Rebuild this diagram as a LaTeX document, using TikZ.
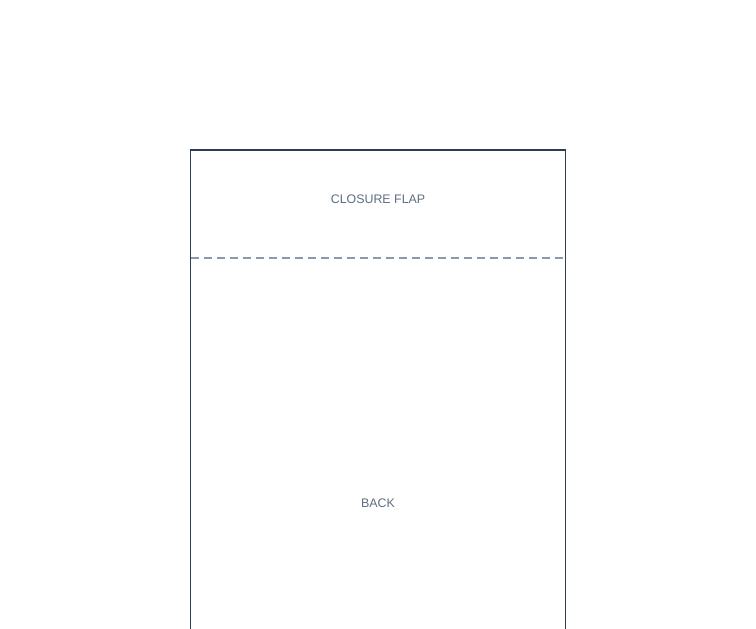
\documentclass[tikz,border=0pt]{standalone}
\usepackage{fontspec}
\setmainfont{Liberation Sans}
\usepackage{xcolor}
\usetikzlibrary{positioning}
\definecolor{edgecol}{HTML}{2C3E50}
\definecolor{foldcol}{HTML}{8A9AAB}
\definecolor{labelcol}{HTML}{5D6D7E}
\tikzset{
	panel/.style={draw=edgecol,line width=1.2pt},
	fold/.style={draw=foldcol,line width=1.2pt,dash pattern=on 8pt off 5pt},
	panellabel/.style={text=labelcol,font=\fontsize{12.4pt}{14pt}\selectfont,inner sep=0pt}
}
\begin{document}
\begin{tikzpicture}[x=1pt,y=-1pt]
	\useasboundingbox (0,0) rectangle (756,629);
	\clip (0,0) rectangle (756,629);
	% outline of the sheet, running off the bottom
	\draw[panel] (190.5,640)--(190.5,150)--(565.5,150)--(565.5,640);
	% fold line under the flap
	\coordinate (foldL) at (190.5,258);
	\coordinate (foldR) at (565.5,258);
	\draw[fold] (foldL)--(foldR);
	\node[panellabel] (flap) at (378,199.5) {CLOSURE FLAP};
	\node[panellabel] (back) at (378,503.5) {BACK};
\end{tikzpicture}
\end{document}
